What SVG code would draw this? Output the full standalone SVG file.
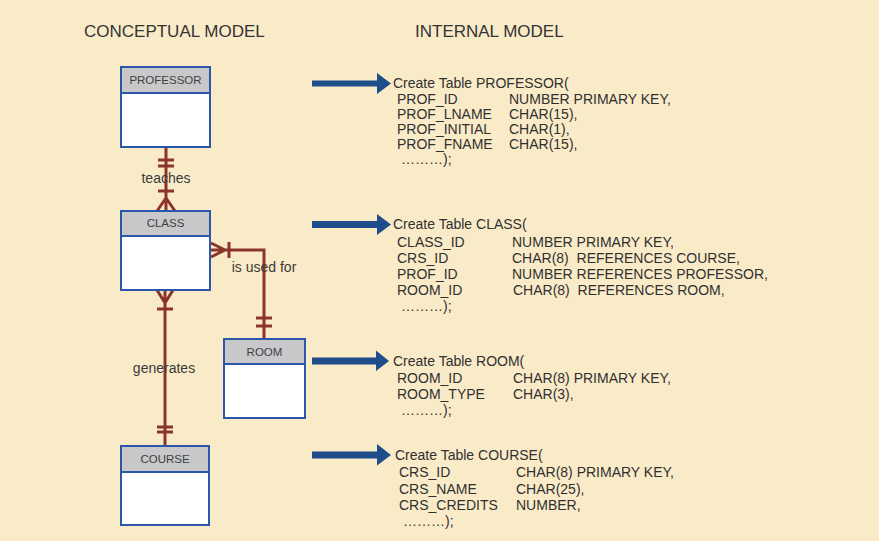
<svg xmlns="http://www.w3.org/2000/svg" width="879" height="541" viewBox="0 0 879 541">
<style>
.title{font-family:"Liberation Sans",Arial,sans-serif;font-size:17px;fill:#333}
.code{font-family:"Liberation Sans",Arial,sans-serif;font-size:14px;fill:#303030;white-space:pre}
.lbl{font-family:"Liberation Sans",Arial,sans-serif;font-size:14px;fill:#3a3a3a;text-anchor:middle}
.ename{font-family:"Liberation Sans",Arial,sans-serif;font-size:11.5px;fill:#404040;text-anchor:middle}
.box{fill:#fff;stroke:#2B57A8;stroke-width:2}
.hdr{fill:#C8C8CB;stroke:#2B57A8;stroke-width:2}
.rel{fill:none;stroke:#8B3429;stroke-width:3}
.arr{fill:#1F4C8A}
</style>
<rect width="879" height="541" fill="#FAEBC8"/>
<text class="title" x="84" y="37">CONCEPTUAL MODEL</text>
<text class="title" x="415" y="37">INTERNAL MODEL</text>

<g id="connectors">
  <path class="rel" d="M166,147V211 M158,160H174 M158,166H174 M158,191H174 M166,198L157,211 M166,198L175,211"/>
  <path class="rel" d="M211,250H264V339 M225,250L211,243 M225,250L211,257 M229,242V258 M256,318H272 M256,326H272"/>
  <path class="rel" d="M165,290V446 M165,303L157,290 M165,303L173,290 M157,309H173 M157,427H173 M157,432H173"/>
  <text class="lbl" x="166" y="183">teaches</text>
  <text class="lbl" x="264" y="272">is used for</text>
  <text class="lbl" x="164" y="373">generates</text>
</g>

<g id="professor">
  <rect class="box" x="121" y="67" width="89" height="80"/>
  <rect class="hdr" x="121" y="67" width="89" height="26"/>
  <text class="ename" x="165.5" y="84">PROFESSOR</text>
</g>
<g id="class">
  <rect class="box" x="121" y="211" width="89" height="79"/>
  <rect class="hdr" x="121" y="211" width="89" height="25"/>
  <text class="ename" x="165.5" y="227">CLASS</text>
</g>
<g id="room">
  <rect class="box" x="224" y="339" width="81" height="79"/>
  <rect class="hdr" x="224" y="339" width="81" height="25"/>
  <text class="ename" x="264.5" y="356">ROOM</text>
</g>
<g id="course">
  <rect class="box" x="121" y="446" width="88" height="79"/>
  <rect class="hdr" x="121" y="446" width="88" height="26"/>
  <text class="ename" x="165" y="463">COURSE</text>
</g>

<g id="arrows">
  <path class="arr" d="M312,80.5H377V73L391,83.5L377,94V86.5H312Z"/>
  <path class="arr" d="M312,221H377V214L391,224.5L377,235V228H312Z"/>
  <path class="arr" d="M312,357.5H376V350.5L389,361L376,371V364.5H312Z"/>
  <path class="arr" d="M312,451.5H377V444L391,455L377,465.5V458.5H312Z"/>
</g>

<g id="table-professor">
  <text class="code" x="393" y="87.5">Create Table PROFESSOR(</text>
  <text class="code" x="397" y="104">PROF_ID</text><text class="code" x="509" y="104">NUMBER PRIMARY KEY,</text>
  <text class="code" x="397" y="119">PROF_LNAME</text><text class="code" x="509" y="119">CHAR(15),</text>
  <text class="code" x="397" y="134">PROF_INITIAL</text><text class="code" x="509" y="134">CHAR(1),</text>
  <text class="code" x="397" y="148.5">PROF_FNAME</text><text class="code" x="509" y="148.5">CHAR(15),</text>
  <text class="code" x="401" y="164">………);</text>
</g>
<g id="table-class">
  <text class="code" x="393" y="229">Create Table CLASS(</text>
  <text class="code" x="397" y="247">CLASS_ID</text><text class="code" x="512" y="247">NUMBER PRIMARY KEY,</text>
  <text class="code" x="397" y="262.5">CRS_ID</text><text class="code" x="512" y="262.5">CHAR(8)  REFERENCES COURSE,</text>
  <text class="code" x="397" y="279">PROF_ID</text><text class="code" x="512" y="279">NUMBER REFERENCES PROFESSOR,</text>
  <text class="code" x="397" y="295">ROOM_ID</text><text class="code" x="513" y="295">CHAR(8)  REFERENCES ROOM,</text>
  <text class="code" x="401" y="310.5">………);</text>
</g>
<g id="table-room">
  <text class="code" x="393" y="366">Create Table ROOM(</text>
  <text class="code" x="397" y="383">ROOM_ID</text><text class="code" x="513" y="383">CHAR(8) PRIMARY KEY,</text>
  <text class="code" x="397" y="398.5">ROOM_TYPE</text><text class="code" x="513" y="398.5">CHAR(3),</text>
  <text class="code" x="401" y="414.5">………);</text>
</g>
<g id="table-course">
  <text class="code" x="395" y="460">Create Table COURSE(</text>
  <text class="code" x="399" y="477">CRS_ID</text><text class="code" x="516" y="477">CHAR(8) PRIMARY KEY,</text>
  <text class="code" x="399" y="493.5">CRS_NAME</text><text class="code" x="516" y="493.5">CHAR(25),</text>
  <text class="code" x="399" y="509.5">CRS_CREDITS</text><text class="code" x="516" y="509.5">NUMBER,</text>
  <text class="code" x="403" y="525.5">………);</text>
</g>
</svg>
